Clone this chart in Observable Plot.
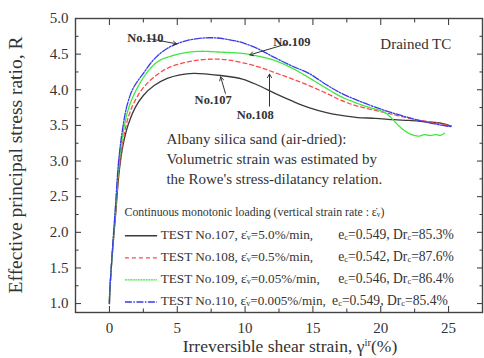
<!DOCTYPE html>
<html><head><meta charset="utf-8">
<script src="https://cdn.jsdelivr.net/npm/d3@7"></script>
<script src="https://cdn.jsdelivr.net/npm/@observablehq/plot@0.6"></script>
<style>body{margin:0;background:#fff}</style>
</head><body><div id="chart"></div>
<script>
// ---- data (strain γ_ir %, stress ratio R) ----
const test107 = [[0,1.0],[0.02,1.14],[0.2,1.66],[0.47,2.28],[0.72,2.85],[1.0,3.22],[1.4,3.52],[1.9,3.75],[2.5,3.92],[3.3,4.06],[4.26,4.16],[5.2,4.21],[6.2,4.23],[7.2,4.22],[8.2,4.2],[9.8,4.15],[11,4.06],[12.2,3.95],[13.5,3.84],[14.7,3.75],[16,3.68],[17.1,3.64],[18.3,3.61],[19.6,3.6],[21,3.58],[22.1,3.57],[23.3,3.55],[24.5,3.53],[25.2,3.49]];
const test108 = [[0,1.0],[0.02,1.14],[0.2,1.67],[0.46,2.3],[0.7,2.88],[1.0,3.28],[1.4,3.62],[1.9,3.85],[2.5,4.03],[3.3,4.18],[4.26,4.3],[5.5,4.38],[6.7,4.42],[7.8,4.43],[8.7,4.42],[9.8,4.38],[11,4.32],[12.2,4.24],[13.5,4.15],[14.7,4.06],[16,3.95],[17.1,3.85],[18.3,3.77],[19.6,3.71],[21,3.65],[22.1,3.6],[23.3,3.56],[24.5,3.52],[25.2,3.49]];
const test109 = [[0,1.0],[0.02,1.14],[0.2,1.68],[0.45,2.33],[0.68,2.92],[0.95,3.33],[1.35,3.7],[1.85,3.95],[2.8,4.25],[3.6,4.4],[4.5,4.47],[5.6,4.52],[6.7,4.54],[8.0,4.53],[9.8,4.51],[11,4.47],[12.2,4.41],[13.5,4.3],[14.7,4.17],[16,4.02],[17.1,3.9],[18.7,3.78],[20.3,3.68],[20.8,3.6],[21.3,3.5],[21.8,3.42],[22.3,3.37],[22.8,3.35],[23.2,3.37],[23.6,3.36],[24.1,3.37],[24.4,3.36],[24.7,3.39]];
const test110 = [[0,1.0],[0.02,1.14],[0.2,1.7],[0.44,2.35],[0.66,2.96],[0.93,3.4],[1.3,3.78],[1.75,4.02],[2.5,4.23],[3.3,4.43],[4.26,4.58],[5.7,4.69],[7.4,4.73],[8.6,4.71],[9.8,4.66],[11,4.57],[12.2,4.45],[13.5,4.33],[14.7,4.23],[16,4.07],[17.1,3.95],[18.7,3.82],[20.3,3.71],[21.5,3.64],[22.8,3.57],[24,3.52],[25.2,3.48]];

const xMajor = [0,5,10,15,20,25];
const xMinor = [2.5,7.5,12.5,17.5,22.5];
const yMajor = [1.0,1.5,2.0,2.5,3.0,3.5,4.0,4.5,5.0];
const yMinor = [1.25,1.75,2.25,2.75,3.25,3.75,4.25,4.75];

const testIds = ["TEST No.107,","TEST No.108,","TEST No.109,","TEST No.110,"];
const rates = ["=5.0%/min,","=0.5%/min,","=0.05%/min,","=0.005%/min,"];
const voidRatios = ["=0.549,","=0.542,","=0.546,","=0.549,"];
const densities = ["=85.3%","=87.6%","=86.4%","=85.4%"];
const curveLabels = ["No.110","No.109","No.107","No.108"];

const series = [
  {data:test107, stroke:"#3a3a3a", dash:null},
  {data:test108, stroke:"#ff4a4a", dash:"4,3"},
  {data:test109, stroke:"#3ee83e", dash:"2,0.6"},
  {data:test110, stroke:"#3a3ae6", dash:"7,1.5,1.5,1.5"}
];

const FONT = "'Liberation Serif','Times New Roman',serif";
const ink = "#333";

const axisCommon = {label:null, stroke:ink, fill:ink, fontSize:15};
const plot = Plot.plot({
  width:484, height:358,
  marginLeft:75, marginRight:2, marginTop:18, marginBottom:46,
  style:{fontFamily:FONT, fontSize:"15px", color:ink, background:"#fff"},
  x:{domain:[-2.5,27.5]},
  y:{domain:[0.875,5.0]},
  marks:[
    Plot.axisX({...axisCommon, ticks:xMajor, tickSize:-6, tickPadding:16, tickFormat:d=>String(d)}),
    Plot.axisX({...axisCommon, ticks:xMinor, tickSize:-3.5, tickFormat:()=>""}),
    Plot.axisX({...axisCommon, anchor:"top", ticks:xMajor, tickSize:-6, tickFormat:()=>""}),
    Plot.axisX({...axisCommon, anchor:"top", ticks:xMinor, tickSize:-3.5, tickFormat:()=>""}),
    Plot.axisY({...axisCommon, ticks:yMajor, tickSize:-6, tickPadding:13, tickFormat:d3.format(".1f")}),
    Plot.axisY({...axisCommon, ticks:yMinor, tickSize:-3.5, tickFormat:()=>""}),
    Plot.axisY({...axisCommon, anchor:"right", ticks:yMajor, tickSize:-6, tickFormat:()=>""}),
    Plot.axisY({...axisCommon, anchor:"right", ticks:yMinor, tickSize:-3.5, tickFormat:()=>""}),
    Plot.frame({stroke:"#444", strokeWidth:1.4}),
    ...series.map(s => Plot.line(s.data, {x:d=>d[0], y:d=>d[1], stroke:s.stroke, strokeWidth:1.3, strokeDasharray:s.dash, curve:"catmull-rom"})),
    Plot.arrow([
      {x1:2.85,y1:4.72,x2:4.95,y2:4.645},
      {x1:13.1,y1:4.645,x2:10.35,y2:4.49},
      {x1:8.55,y1:3.95,x2:8.2,y2:4.18},
      {x1:11.8,y1:3.77,x2:11.8,y2:4.22}
    ], {x1:"x1",y1:"y1",x2:"x2",y2:"y2", stroke:ink, strokeWidth:1, headLength:6}),
    Plot.text([
      {t:curveLabels[0], x:2.65, y:4.72, a:"end"},
      {t:curveLabels[1], x:13.45, y:4.665, a:"start"},
      {t:curveLabels[2], x:7.65, y:3.85, a:"start"},
      {t:curveLabels[3], x:10.75, y:3.64, a:"start"}
    ], {x:"x", y:"y", text:"t", textAnchor:d=>d.a, fontSize:12.5, fill:ink, fontWeight:"bold"}),
    Plot.text(["Drained TC"], {x:25.2, y:4.64, textAnchor:"end", fontSize:15, fill:ink}),
    Plot.text(["Albany silica sand (air-dried):\nVolumetric strain was estimated by\nthe Rowe's stress-dilatancy relation."],
      {x:4.2, y:3.44, textAnchor:"start", lineAnchor:"top", lineHeight:1.33, fontSize:15, fill:ink})
  ]
});

const X = plot.scale("x"), Y = plot.scale("y");
const svg = d3.select(plot);

function rich(g, x, y, parts, size, anchor) {
  const t = g.append("text").attr("x", x).attr("y", y).attr("font-size", size)
    .attr("fill", ink).attr("text-anchor", anchor || "start").attr("dominant-baseline","middle");
  for (const [s, kind] of parts) {
    const ts = t.append("tspan").text(s);
    if (kind === "sub") ts.attr("baseline-shift","-30%").attr("font-size", size*0.62);
    if (kind === "sup") ts.attr("baseline-shift","45%").attr("font-size", size*0.62);
  }
  return t;
}

// legend inside plot
const lg = svg.append("g");
const LS = 13.2;
rich(lg, X.apply(1.15), Y.apply(2.265), [["Continuous monotonic loading (vertical strain rate : ε̇",null],["v","sub"],[")",null]], 11.8);
const rowY = [1.945, 1.635, 1.325, 1.015];
series.forEach((s, i) => {
  lg.append("line").attr("x1", X.apply(1.18)).attr("x2", X.apply(3.55))
    .attr("y1", Y.apply(rowY[i])).attr("y2", Y.apply(rowY[i]))
    .attr("stroke", s.stroke).attr("stroke-width", 1.3).attr("stroke-dasharray", s.dash);
  rich(lg, X.apply(3.82), Y.apply(rowY[i]), [[testIds[i]+" ε̇",null],["v","sub"],[rates[i],null]], LS);
  rich(lg, X.apply(i===3 ? 16.45 : 16.9), Y.apply(rowY[i]), [["e",null],["c","sub"],[voidRatios[i]+" Dr",null],["c","sub"],[densities[i],null]], 13.6);
});

// axis titles
rich(svg, 290, 348, [["Irreversible shear strain, γ",null],["ir","sup"],["(%)",null]], 17.5, "middle");
rich(svg, 0, 0, [["Effective principal stress ratio, R",null]], 19.5, "middle")
  .attr("transform", `translate(18,${(Y.apply(0.875)+Y.apply(5))/2}) rotate(-90)`);

document.getElementById("chart").appendChild(plot);
</script>
</body></html>
